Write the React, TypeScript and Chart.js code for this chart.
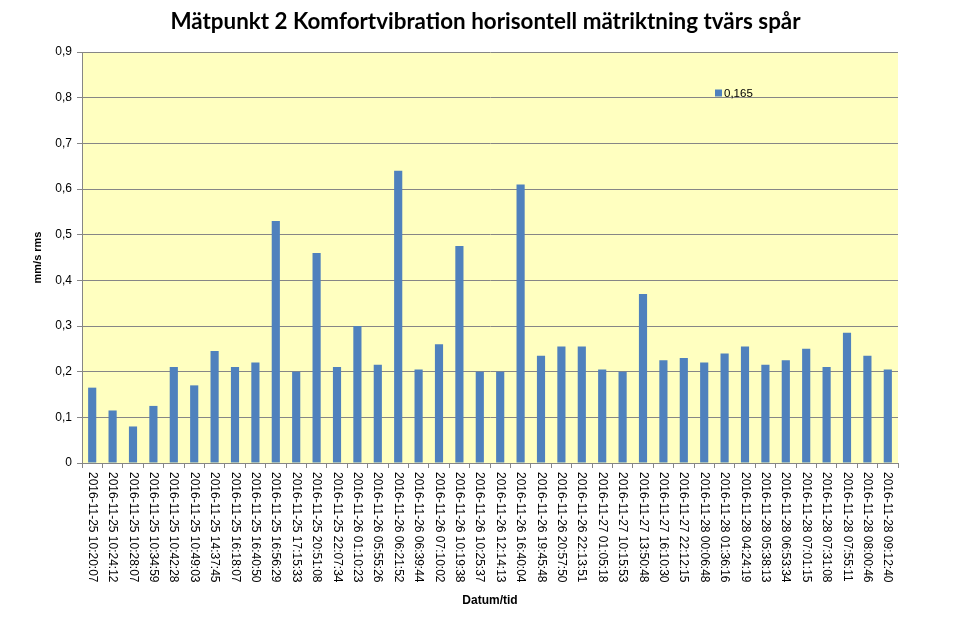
import React, { useEffect, useRef } from "react";
import { Chart, registerables } from "chart.js";

Chart.register(...registerables);

const chartTitle = "Mätpunkt 2 Komfortvibration horisontell mätriktning tvärs spår";
const xTitle = "Datum/tid";
const yTitle = "mm/s rms";
const seriesName = "0,165";

const categories = [
  "2016-11-25 10:20:07",
  "2016-11-25 10:24:12",
  "2016-11-25 10:28:07",
  "2016-11-25 10:34:59",
  "2016-11-25 10:42:28",
  "2016-11-25 10:49:03",
  "2016-11-25 14:37:45",
  "2016-11-25 16:18:07",
  "2016-11-25 16:40:50",
  "2016-11-25 16:56:29",
  "2016-11-25 17:15:33",
  "2016-11-25 20:51:08",
  "2016-11-25 22:07:34",
  "2016-11-26 01:10:23",
  "2016-11-26 05:55:26",
  "2016-11-26 06:21:52",
  "2016-11-26 06:39:44",
  "2016-11-26 07:10:02",
  "2016-11-26 10:19:38",
  "2016-11-26 10:25:37",
  "2016-11-26 12:14:13",
  "2016-11-26 16:40:04",
  "2016-11-26 19:45:48",
  "2016-11-26 20:57:50",
  "2016-11-26 22:13:51",
  "2016-11-27 01:05:18",
  "2016-11-27 10:15:53",
  "2016-11-27 13:50:48",
  "2016-11-27 16:10:30",
  "2016-11-27 22:12:15",
  "2016-11-28 00:06:48",
  "2016-11-28 01:36:16",
  "2016-11-28 04:24:19",
  "2016-11-28 05:38:13",
  "2016-11-28 06:53:34",
  "2016-11-28 07:01:15",
  "2016-11-28 07:31:08",
  "2016-11-28 07:55:11",
  "2016-11-28 08:00:46",
  "2016-11-28 09:12:40",
];

const values = [
  0.165, 0.115, 0.08, 0.125, 0.21, 0.17, 0.245, 0.21, 0.22, 0.53,
  0.2, 0.46, 0.21, 0.3, 0.215, 0.64, 0.205, 0.26, 0.475, 0.2,
  0.2, 0.61, 0.235, 0.255, 0.255, 0.205, 0.2, 0.37, 0.225, 0.23,
  0.22, 0.24, 0.255, 0.215, 0.225, 0.25, 0.21, 0.285, 0.235, 0.205,
];

const yMin = 0;
const yMax = 0.9;
const yStep = 0.1;

const BAR_COLOR = "#4F81BD";
const PLOT_BG = "#FFFFC0";
const GRID_COLOR = "#868686";
const TEXT_COLOR = "#000000";

const fmtY = (v: number) => (Math.abs(v) < 1e-9 ? "0" : v.toFixed(1).replace(".", ","));

const customPlugin = {
  id: "customDecor",
  beforeDraw(chart: any) {
    const { ctx, chartArea: a } = chart;
    ctx.save();
    ctx.fillStyle = PLOT_BG;
    ctx.fillRect(a.left, a.top, a.right - a.left, a.bottom - a.top);
    ctx.restore();
  },
  afterDraw(chart: any) {
    const { ctx, chartArea: a } = chart;
    const xs = chart.scales.x;
    ctx.save();
    ctx.fillStyle = TEXT_COLOR;
    // rotated category labels (reading top to bottom)
    ctx.font = "12px 'Liberation Sans'";
    ctx.textAlign = "left";
    ctx.textBaseline = "middle";
    categories.forEach((lab, i) => {
      const px = xs.getPixelForTick(i);
      ctx.save();
      ctx.translate(px, a.bottom + 9);
      ctx.rotate(Math.PI / 2);
      ctx.fillText(lab, 0, 0);
      ctx.restore();
    });
    // chart title
    ctx.font = "bold 22.4px Lato";
    ctx.textAlign = "center";
    ctx.textBaseline = "alphabetic";
    ctx.fillText(chartTitle, chart.width / 2, 29);
    // y axis title
    ctx.save();
    ctx.translate(38, (a.top + a.bottom) / 2);
    ctx.rotate(-Math.PI / 2);
    ctx.font = "bold 11px 'Liberation Sans'";
    ctx.textAlign = "center";
    ctx.textBaseline = "middle";
    ctx.fillText(yTitle, 0, 0);
    ctx.restore();
    // legend
    const lx = a.left + 633;
    const ly = a.top + 41;
    ctx.fillStyle = chart.data.datasets[0].backgroundColor;
    ctx.fillRect(lx, ly - 3.5, 7, 7);
    ctx.fillStyle = TEXT_COLOR;
    ctx.font = "11.5px 'Liberation Sans'";
    ctx.textAlign = "left";
    ctx.textBaseline = "middle";
    ctx.fillText(chart.data.datasets[0].label, lx + 9, ly + 1);
    ctx.restore();
  },
};

export default function App() {
  const ref = useRef<HTMLCanvasElement | null>(null);

  useEffect(() => {
    if (!ref.current) return;
    const chart = new Chart(ref.current, {
      type: "bar",
      data: {
        labels: categories,
        datasets: [
          {
            label: seriesName,
            data: values,
            backgroundColor: BAR_COLOR,
            borderWidth: 0,
            barPercentage: 0.4,
            categoryPercentage: 1,
          },
        ],
      },
      options: {
        responsive: false,
        animation: false,
        devicePixelRatio: 1,
        layout: { padding: { top: 52, right: 73, left: 0, bottom: 0 } },
        plugins: {
          legend: { display: false },
          title: { display: false },
          tooltip: { enabled: false },
        },
        scales: {
          x: {
            offset: true,
            grid: {
              offset: true,
              drawOnChartArea: false,
              drawTicks: true,
              tickLength: 5,
              color: GRID_COLOR,
            },
            border: { display: true, color: GRID_COLOR },
            ticks: { display: false },
            title: {
              display: true,
              text: xTitle,
              color: TEXT_COLOR,
              font: { family: "'Liberation Sans'", size: 12, weight: "bold" },
              padding: { top: 0, bottom: 23 },
            },
            afterFit: (s: any) => {
              s.height = 168;
            },
          },
          y: {
            min: yMin,
            max: yMax,
            grid: { color: GRID_COLOR, tickLength: 5, drawTicks: true },
            border: { display: true, color: GRID_COLOR },
            ticks: {
              stepSize: yStep,
              color: TEXT_COLOR,
              padding: 5,
              font: { family: "'Liberation Sans'", size: 12 },
              callback: (v: any) => fmtY(Number(v)),
            },
            afterFit: (s: any) => {
              s.width = 82;
            },
          },
        },
      },
      plugins: [customPlugin],
    });
    return () => chart.destroy();
  }, []);

  return (
    <div style={{ position: "absolute", left: 0, top: 0, width: 971, height: 631, background: "#fff" }}>
      <canvas ref={ref} width={971} height={631} style={{ display: "block" }} />
    </div>
  );
}
